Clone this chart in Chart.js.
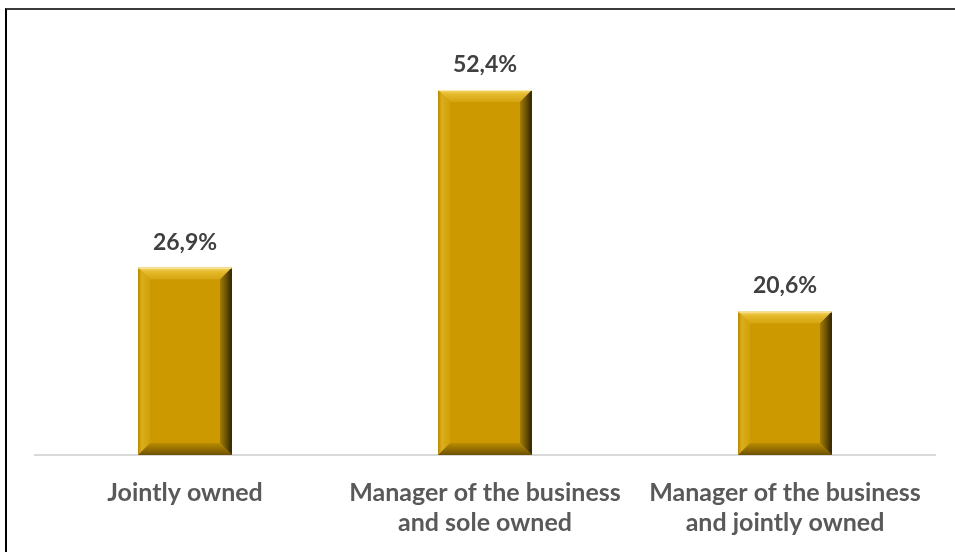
<!DOCTYPE html>
<html>
<head>
<meta charset="utf-8">
<script src="https://cdn.jsdelivr.net/npm/chart.js@4.4.1/dist/chart.umd.min.js"></script>
<style>
    html, body { margin: 0; padding: 0; background: #ffffff; }
    .frame {
        position: absolute;
        left: 5px;
        top: 8px;
        width: 960px;
        height: 560px;
        border-top: 2px solid #3a3a3a;
        border-left: 2px solid #000000;
    }
    .chart-box { position: absolute; left: 0; top: 0; width: 955px; height: 552px; }
</style>
</head>
<body>
<div class="frame"></div>
<div class="chart-box"><canvas id="ownership-chart" width="955" height="552"></canvas></div>
<script>
const categories = [
    'Jointly owned',
    ['Manager of the business', 'and sole owned'],
    ['Manager of the business', 'and jointly owned']
];
const shares = [26.9, 52.4, 20.6];

const barColor = '#cc9a00';
const fontFamily = 'Lato, "Open Sans", sans-serif';

const formatShare = value => value.toFixed(1).replace('.', ',') + '%';

// gradient-filled trapezoid used for the bevelled edges of a bar
function fillEdge(ctx, points, from, to, stops) {
    const grad = ctx.createLinearGradient(from[0], from[1], to[0], to[1]);
    stops.forEach(([pos, color]) => grad.addColorStop(pos, color));
    ctx.beginPath();
    ctx.moveTo(points[0][0], points[0][1]);
    points.slice(1).forEach(p => ctx.lineTo(p[0], p[1]));
    ctx.closePath();
    ctx.fillStyle = grad;
    ctx.fill();
}

const bevelPlugin = {
    id: 'bevel',
    afterDatasetsDraw(chart) {
        const ctx = chart.ctx;
        const meta = chart.getDatasetMeta(0);
        meta.data.forEach(bar => {
            const l = bar.x - bar.width / 2;
            const r = bar.x + bar.width / 2;
            const t = bar.y;
            const b = bar.base;
            const s = 12;
            ctx.save();
            // top
            fillEdge(ctx, [[l, t], [r, t], [r - s, t + s], [l + s, t + s]],
                [0, t], [0, t + s],
                [[0, '#f5d86e'], [0.35, '#e6ba2c'], [1, '#d4a410']]);
            // left
            fillEdge(ctx, [[l, t], [l + s, t + s], [l + s, b - s], [l, b]],
                [l, 0], [l + s, 0],
                [[0, '#b58800'], [0.3, '#dcae1c'], [1, '#cfa008']]);
            // bottom
            fillEdge(ctx, [[l, b], [l + s, b - s], [r - s, b - s], [r, b]],
                [0, b - s], [0, b],
                [[0, '#b88b00'], [0.6, '#8d6a00'], [1, '#6b5000']]);
            // right
            fillEdge(ctx, [[r, t], [r, b], [r - s, b - s], [r - s, t + s]],
                [r - s, 0], [r, 0],
                [[0, '#a67d00'], [0.5, '#6e5300'], [1, '#2e2200']]);
            // light rim along the top edge
            ctx.strokeStyle = 'rgba(255, 240, 190, 0.9)';
            ctx.lineWidth = 1;
            ctx.beginPath();
            ctx.moveTo(l, t + 0.5);
            ctx.lineTo(r, t + 0.5);
            ctx.stroke();
            ctx.restore();
        });
    }
};

const valueLabelPlugin = {
    id: 'valueLabels',
    afterDatasetsDraw(chart) {
        const ctx = chart.ctx;
        const meta = chart.getDatasetMeta(0);
        ctx.save();
        ctx.font = 'bold 23px ' + fontFamily;
        ctx.fillStyle = '#404040';
        ctx.textAlign = 'center';
        ctx.textBaseline = 'alphabetic';
        meta.data.forEach((bar, i) => {
            ctx.fillText(formatShare(shares[i]), bar.x, bar.y - 18);
        });
        ctx.restore();
    }
};

new Chart(document.getElementById('ownership-chart'), {
    type: 'bar',
    data: {
        labels: categories,
        datasets: [{
            data: shares,
            backgroundColor: barColor,
            borderWidth: 0,
            categoryPercentage: 1,
            barPercentage: 0.313
        }]
    },
    options: {
        responsive: false,
        animation: false,
        layout: { padding: { left: 35, right: 20, top: 37, bottom: 0 } },
        scales: {
            y: {
                display: false,
                min: 0,
                max: 60
            },
            x: {
                grid: { display: false, drawTicks: false },
                border: { color: '#d9d9d9', width: 2 },
                afterFit: scale => { scale.height = 97; },
                ticks: {
                    color: '#595959',
                    padding: 23,
                    maxRotation: 0,
                    autoSkip: false,
                    font: { family: fontFamily, size: 25, weight: 'bold', lineHeight: 1.2 }
                }
            }
        },
        plugins: {
            legend: { display: false },
            tooltip: { enabled: false }
        }
    },
    plugins: [bevelPlugin, valueLabelPlugin]
});
</script>
</body>
</html>
